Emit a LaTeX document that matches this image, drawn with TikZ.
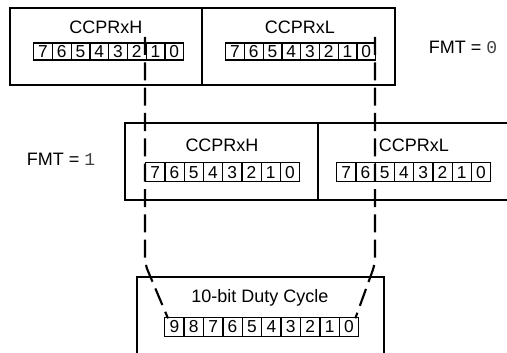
\documentclass[tikz,border=0pt]{standalone}
\usepackage{fontspec}
\setmainfont{Liberation Sans}
\newfontfamily\monofnt{Liberation Mono}
\begin{document}
\begin{tikzpicture}[x=0.75pt,y=-0.75pt,
  regbox/.style={line width=1.4pt},
  bitcell/.style={draw,line width=1pt,inner sep=0pt,anchor=north west,font=\fontsize{13}{15}\selectfont},
  lbl/.style={inner sep=0pt,font=\fontsize{13.5}{16}\selectfont},
  guide/.style={line width=1.6pt,dash pattern=on 13.5pt off 5.5pt,rounded corners=5pt}]
\useasboundingbox (0,0) rectangle (507,353);
% top registers
\draw[regbox] (10,8) rectangle (202,85);
\draw[regbox] (202,8) rectangle (395,85);
\node[lbl] (tHl) at (106,27) {CCPRxH};
\node[lbl] (tLl) at (300,27) {CCPRxL};
\foreach \b [count=\i from 0] in {7,6,5,4,3,2,1,0}{
  \node[bitcell,minimum width=18.75*0.75pt,minimum height=17*0.75pt] (tH\b) at (33+18.75*\i,42.5) {\b};
  \node[bitcell,minimum width=18.75*0.75pt,minimum height=17*0.75pt] (tL\b) at (225+18.75*\i,42.5) {\b};
}
\node[lbl] (fmt0) at (463,47) {FMT = {\monofnt\color{black!75}0}};
% middle registers
\draw[regbox] (510,123) -- (125,123) -- (125,200) -- (510,200);
\draw[regbox] (318,123) -- (318,200);
\node[lbl] (mHl) at (222,145) {CCPRxH};
\node[lbl] (mLl) at (414,145) {CCPRxL};
\foreach \b [count=\i from 0] in {7,6,5,4,3,2,1,0}{
  \node[bitcell,minimum width=19.25*0.75pt,minimum height=19*0.75pt] (mH\b) at (145+19.25*\i,162) {\b};
  \node[bitcell,minimum width=19.25*0.75pt,minimum height=19*0.75pt] (mL\b) at (336+19.25*\i,162) {\b};
}
\node[lbl] (fmt1) at (61,159) {FMT = {\monofnt\color{black!75}1}};
% bottom register
\draw[regbox] (137,360) -- (137,277) -- (384,277) -- (384,360);
\node[lbl] (dcl) at (260,298) {10-bit Duty Cycle};
\foreach \b [count=\i from 0] in {9,8,7,6,5,4,3,2,1,0}{
  \node[bitcell,minimum width=19.4*0.75pt,minimum height=18.5*0.75pt] (d\b) at (164+19.4*\i,317) {\b};
}
% guides
\coordinate (gL0) at (145,37);
\coordinate (gL1) at (145,264);
\coordinate (gR0) at (375,37);
\coordinate (gR1) at (375,264);
\draw[guide] (gL0) -- (gL1) -- ([xshift=3pt,yshift=-1pt]d9.north west);
\draw[guide] (gR0) -- (gR1) -- ([xshift=-3pt,yshift=-1pt]d0.north east);
\end{tikzpicture}
\end{document}
